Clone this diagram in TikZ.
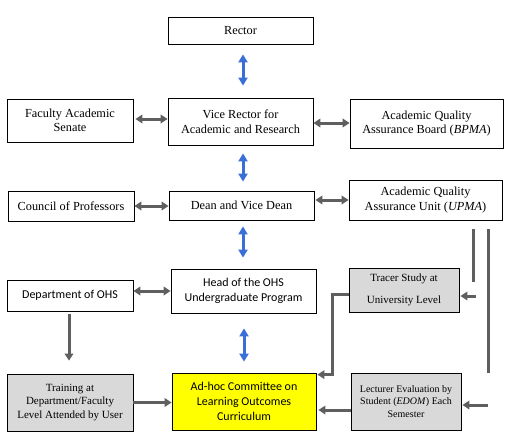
\documentclass[tikz,border=0pt]{standalone}
\usepackage{fontspec}
\setmainfont{Liberation Serif}
\newfontfamily\timesf{Liberation Serif}
\newfontfamily\calib{Carlito}
\usetikzlibrary{arrows.meta}
\definecolor{arrgray}{HTML}{5F5F5F}
\definecolor{arrblue}{HTML}{3A6FD8}
\definecolor{boxgray}{HTML}{D9D9D9}
\definecolor{boxyellow}{HTML}{FFFF00}
\begin{document}
\begin{tikzpicture}[x=1pt,y=-1pt,
  box/.style={draw, line width=0.8pt, align=center, inner sep=0pt, font=\timesf\fontsize{12.3}{14.5}\selectfont},
  graybox/.style={box, fill=boxgray},
  tipg/.tip={Triangle[width=8.5pt,length=7pt]},
  tipb/.tip={Triangle[width=9pt,length=8pt]},
  garr/.style={draw=arrgray, color=arrgray, line width=3pt, tipg-tipg},
  garrone/.style={draw=arrgray, color=arrgray, line width=3pt, -tipg},
  gline/.style={draw=arrgray, line width=3pt},
  barr/.style={draw=arrblue, color=arrblue, line width=3pt, tipb-tipb}
]
\useasboundingbox[fill=white] (0,0) rectangle (513,444);

% boxes
\node[box, minimum width=145pt, minimum height=27pt] (rector) at (240.5,30.5) {Rector};
\node[box, minimum width=145pt, minimum height=47pt] (vr) at (240.5,121.5) {Vice Rector for\\Academic and Research};
\node[box, minimum width=126pt, minimum height=43pt] (fas) at (70,120.5) {Faculty Academic\\Senate};
\node[box, minimum width=153pt, minimum height=49pt] (bpma) at (426.5,123.5) {Academic Quality\\Assurance Board (\textit{BPMA})};
\node[box, minimum width=126pt, minimum height=30pt] (council) at (71,206) {Council of Professors};
\node[box, minimum width=145pt, minimum height=29pt] (dean) at (241.5,205.5) {Dean and Vice Dean};
\node[box, minimum width=153pt, minimum height=40pt] (aqau) at (425.5,200) {Academic Quality\\Assurance Unit (\textit{UPMA})};
\node[box, minimum width=126pt, minimum height=31pt, font=\calib\fontsize{12}{14.5}\selectfont] (dept) at (70,295.5) {Department of OHS};
\node[box, minimum width=145pt, minimum height=44pt, font=\calib\fontsize{12}{15}\selectfont] (head) at (243.5,291) {Head of the OHS\\Undergraduate Program};
\node[graybox, minimum width=110pt, minimum height=44pt, font=\timesf\fontsize{11}{13}\selectfont] (tracer) at (404,290) {Tracer Study at\\[9pt]University Level};
\node[graybox, minimum width=126pt, minimum height=57pt, font=\timesf\fontsize{11}{13.5}\selectfont] (training) at (70,402.5) {Training at\\Department/Faculty\\Level Attended by User};
\node[box, fill=boxyellow, minimum width=144pt, minimum height=57pt, font=\calib\fontsize{12}{15}\selectfont] (adhoc) at (244,401.5) {Ad-hoc Committee on\\Learning Outcomes\\Curriculum};
\node[graybox, minimum width=110pt, minimum height=57pt, font=\timesf\fontsize{10}{12.5}\selectfont] (lect) at (406,401.5) {Lecturer Evaluation by\\Student (\textit{EDOM}) Each\\Semester};

% blue vertical arrows
\draw[barr, shorten <=10pt, shorten >=12pt] ([xshift=2.5pt]rector.south) -- ([xshift=2.5pt]rector.south |- vr.north);
\draw[barr, shorten <=8pt, shorten >=9pt] ([xshift=2.5pt]vr.south) -- ([xshift=2.5pt]vr.south |- dean.north);
\draw[barr, shorten <=6pt, shorten >=11pt] ([xshift=1.5pt]dean.south) -- ([xshift=1.5pt]dean.south |- head.north);
\draw[barr, shorten <=15pt, shorten >=11pt] ([xshift=0.5pt]head.south) -- ([xshift=0.5pt]head.south |- adhoc.north);

% gray horizontal arrows
\draw[garr, shorten <=2pt] ([yshift=1.5pt]fas.east) -- ([yshift=1.5pt]fas.east -| vr.west);
\draw[garr] ([yshift=-1.5pt]vr.east) -- ([yshift=-1.5pt]vr.east -| bpma.west);
\draw[garr] (council.east) -- (council.east -| dean.west);
\draw[garr, shorten <=1pt] (aqau.west -| dean.east) -- (aqau.west);
\draw[garr] (head.west -| dept.east) -- (head.west);
\draw[garrone, shorten <=3pt, shorten >=13pt] ([xshift=-1pt]dept.south) -- ([xshift=-1pt]dept.south |- training.north);
\draw[garrone] (training.east) -- (training.east -| adhoc.west);
\draw[garrone, shorten >=2pt] ([yshift=-8.5pt]lect.west) -- ([yshift=-8.5pt]lect.west -| adhoc.east);
\draw[garrone] ([yshift=-4pt]tracer.west) -- ++(-16,0) |- ([xshift=1pt,yshift=-2pt]adhoc.north east);

% right-side pieces
\coordinate (l1top) at (473,229);
\coordinate (l1bot) at (473,282);
\coordinate (l2top) at (488,229);
\coordinate (l2bot) at (488,373);
\coordinate (a1start) at (476,296);
\coordinate (a2start) at (488,405);
\draw[gline] (l1top) -- (l1bot);
\draw[gline] (l2top) -- (l2bot);
\draw[garrone, shorten >=1pt] (a1start) -- (a1start -| tracer.east);
\draw[garrone, shorten >=1pt] (a2start) -- (a2start -| lect.east);
\end{tikzpicture}
\end{document}
